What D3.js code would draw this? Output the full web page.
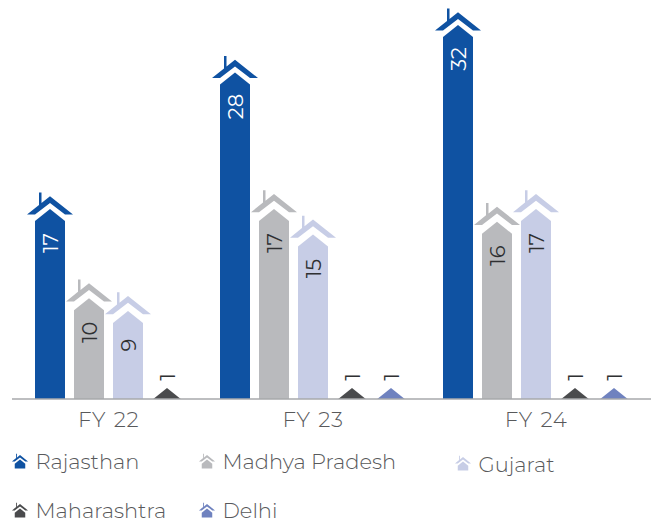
<!DOCTYPE html>
<html><head><meta charset="utf-8">
<script src="https://cdn.jsdelivr.net/npm/d3@7/dist/d3.min.js"></script>
<style>html,body{margin:0;padding:0;background:#fff}svg{display:block}text{font-family:Montserrat,Inter,"Open Sans",sans-serif;font-weight:300}text.val{font-weight:400}</style>
</head><body><svg id="c" width="651" height="525"></svg>
<script>
const years = ["FY 22","FY 23","FY 24"];
const seriesNames = ["Rajasthan","Madhya Pradesh","Gujarat","Maharashtra","Delhi"];
const rajasthan = [17,28,32];
const madhyaPradesh = [10,17,16];
const gujarat = [9,15,17];
const maharashtra = [1,1,1];
const delhi = [null,1,1];
const seriesValues = [rajasthan,madhyaPradesh,gujarat,maharashtra,delhi];
const colors = ["#0f52a2","#b9babd","#c7cde6","#4a4b4d","#6f82bf"];
const labelColors = ["#ffffff","#2f3032","#2f3032","#2f3032","#2f3032"];
const roofGaps = [0,2.3,2.3,0,0];
const yearCentres = [108.5,313,536];

const W=651,H=525,baseY=399,step=39,barHalf=15;
const svg=d3.select("#c");
const xYear=d3.scaleOrdinal().domain(years).range(yearCentres);
// bar apex position; the source graphic is not strictly proportional
const y=d3.scaleLinear().domain([1,9,17,28,32]).range([388,311,209,72.5,25]);

const roofPts=[[0,-12.7],[23,5.5],[15,5.5],[0,-6],[-15,5.5],[-23,5.5],[-11,-4.1],[-11,-16.5],[-8.5,-16.5],[-8.5,-6]];
const line=d3.line();
function barPts(cx,a){
  const h=baseY-a, s=Math.min(barHalf,h*1.25), sh=a+s/1.25;
  return s<barHalf?[[cx,a],[cx+s,baseY],[cx-s,baseY]]
    :[[cx,a],[cx+s,sh],[cx+s,baseY],[cx-s,baseY],[cx-s,sh]];
}
years.forEach((yr,yi)=>{
  const present=seriesNames.filter((n,si)=>seriesValues[si][yi]!=null);
  const c=xYear(yr);
  const band=d3.scaleBand().domain(present).range([c-present.length*step/2,c+present.length*step/2]);
  present.forEach(name=>{
    const si=seriesNames.indexOf(name),v=seriesValues[si][yi];
    const cx=band(name)+band.bandwidth()/2,a=y(v);
    svg.append("path").attr("d",line(barPts(cx,a))+"Z").attr("fill",colors[si]);
    if(v>1)svg.append("path").attr("d",line(roofPts.map(p=>[cx+p[0],a+p[1]-roofGaps[si]]))+"Z").attr("fill",colors[si]);
    const ly=v>1?a+34:a-11;
    svg.append("text").attr("class","val").attr("transform",`translate(${cx+7.5},${ly}) rotate(-90)`)
      .attr("text-anchor","middle").attr("font-size",21).attr("fill",labelColors[si]).text(v);
  });
  svg.append("text").attr("x",c).attr("y",427.3).attr("text-anchor","middle")
    .attr("font-size",21.5).attr("word-spacing",1.5).attr("letter-spacing",0.6).attr("fill","#58595b").text(yr);
});
svg.append("line").attr("x1",12).attr("x2",W).attr("y1",baseY).attr("y2",baseY)
  .attr("stroke","#a7a8ab").attr("stroke-width",1.4);

const legendPos=[[20,462.5,35.5,468.5],[207,462.5,222.5,469],[463,464.5,478.5,471.5],[20,511.5,35.5,518],[207,511.5,222.5,517.5]];
seriesNames.forEach((n,i)=>{
  const [mx,my,tx,ty]=legendPos[i],k=0.35;
  const g=svg.append("g").attr("transform",`translate(${mx},${my-3}) scale(${k})`);
  g.append("path").attr("d",line([[0,0],[15,12],[15,26],[-15,26],[-15,12]])+"Z").attr("fill",colors[i]);
  g.append("path").attr("d",line(roofPts)+"Z").attr("fill",colors[i]);
  svg.append("text").attr("x",tx).attr("y",ty).attr("font-size",21).attr("fill","#58595b").text(n);
});
</script></body></html>
